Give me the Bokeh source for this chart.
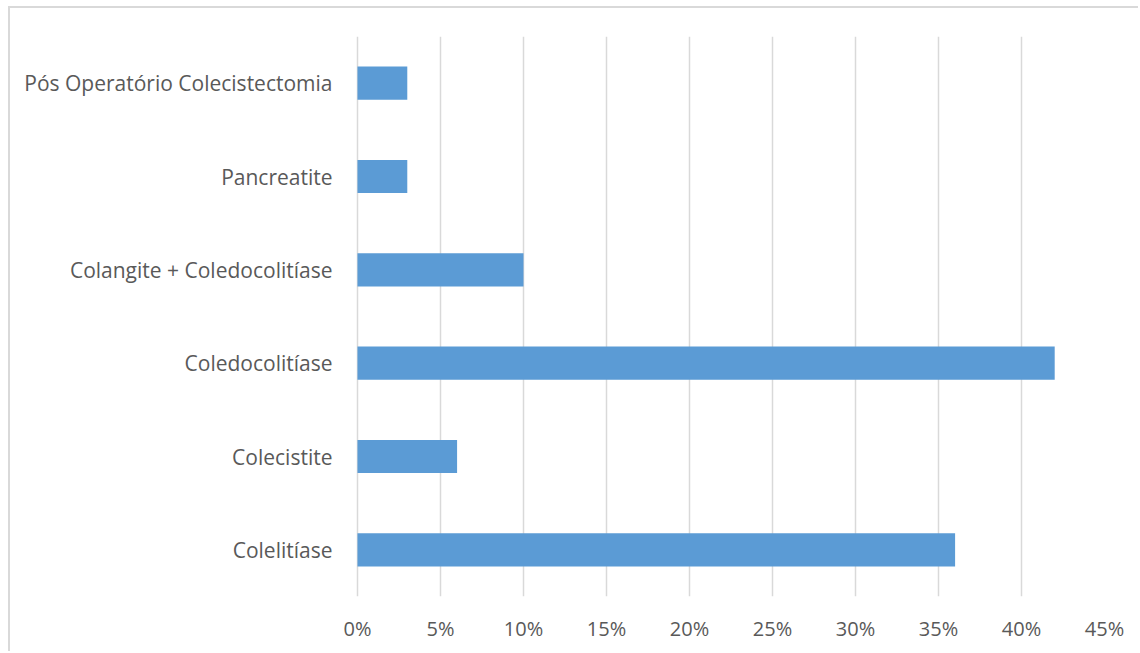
from bokeh.plotting import figure
from bokeh.embed import file_html
from bokeh.resources import INLINE
from bokeh.models import FixedTicker, CustomJSTickFormatter

# Diagnoses, bottom to top, and their share of cases (%)
categories = [
    "Colelitíase",
    "Colecistite",
    "Coledocolitíase",
    "Colangite + Coledocolitíase",
    "Pancreatite",
    "Pós Operatório Colecistectomia",
]
shares = [36, 6, 42, 10, 3, 3]
x_ticks = [0, 5, 10, 15, 20, 25, 30, 35, 40, 45]

FONT = "Open Sans"
TEXT = "#595959"
GRID = "#d9d9d9"
BAR = "#5b9bd5"

p = figure(
    y_range=categories,
    x_range=(-0.3, 45),
    width=1130,
    height=645,
    output_backend="svg",
    toolbar_location=None,
    min_border_left=342,
    min_border_right=36,
    min_border_top=28,
    min_border_bottom=57,
)
p.styles = {
    "margin-top": "6px",
    "margin-left": "8px",
    "border-top": "2px solid #d9d9d9",
    "border-left": "2px solid #d9d9d9",
}

p.hbar(y=categories, right=shares, left=0, height=0.355, color=BAR, line_color=None)

p.outline_line_color = None
p.y_range.range_padding = 0
p.y_range.factor_padding = 0

p.xgrid.ticker = FixedTicker(ticks=x_ticks)
p.xgrid.grid_line_color = GRID
p.xgrid.grid_line_width = 1.5
p.ygrid.grid_line_color = None

p.xaxis.ticker = FixedTicker(ticks=x_ticks)
p.xaxis.formatter = CustomJSTickFormatter(code="return tick + '%';")
for ax in (p.xaxis[0], p.yaxis[0]):
    ax.axis_line_color = None
    ax.major_tick_line_color = None
    ax.minor_tick_line_color = None
    ax.major_label_text_font = FONT
    ax.major_label_text_color = TEXT
p.xaxis.major_label_text_font_size = "20px"
p.yaxis.major_label_text_font_size = "21px"
p.xaxis.major_label_standoff = 12
p.yaxis.major_label_standoff = 14

with open("out.html", "w") as f:
    f.write(file_html(p, INLINE))
